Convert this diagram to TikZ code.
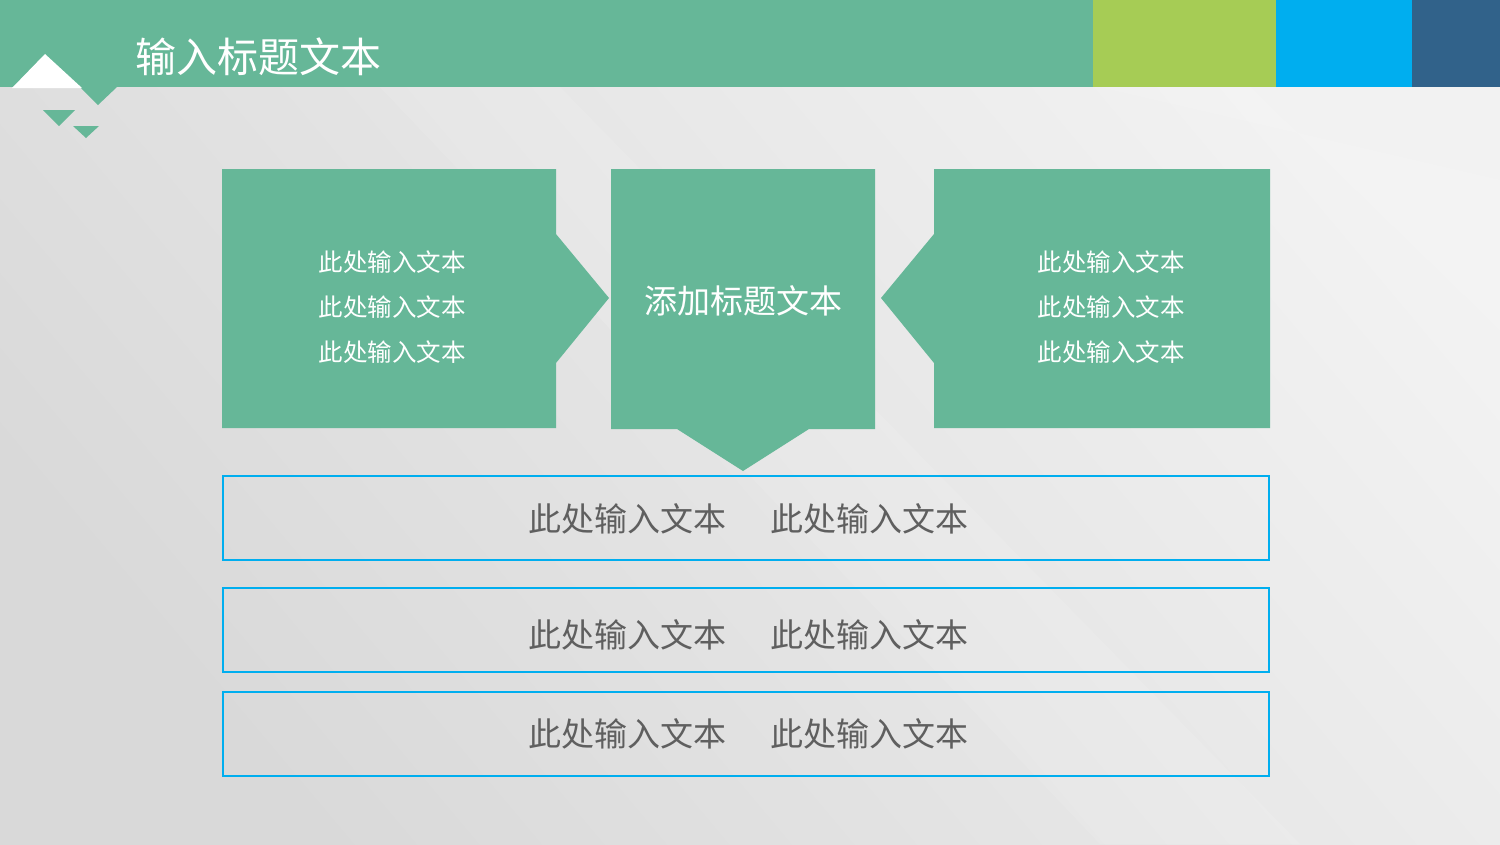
\documentclass[tikz,border=0pt]{standalone}
\usepackage{fontspec}
\newfontfamily\cjk{Noto Sans CJK SC}
\definecolor{mgreen}{HTML}{66B798}
\definecolor{mlime}{HTML}{A6CC55}
\definecolor{mblue}{HTML}{00AEEF}
\definecolor{mdark}{HTML}{31628A}
\definecolor{mgrey}{HTML}{5F5F5F}
\definecolor{bglight}{HTML}{F2F2F2}
\definecolor{bgdark}{HTML}{D9D9D9}
\tikzset{
  x=1pt, y=-1pt,
  gshape/.style={fill=mgreen, draw=none},
  outbox/.style={draw=mblue, line width=2.5pt},
  smalltext/.style={text=white, font=\cjk\fontsize{24.5}{45}\selectfont, align=center, inner sep=0pt},
  bigtext/.style={text=mgrey, font=\cjk\fontsize{33}{40}\selectfont, inner sep=0pt},
  titletext/.style={text=white, font=\cjk\fontsize{41}{48}\selectfont, inner sep=0pt},
}
\begin{document}
\begin{tikzpicture}
\useasboundingbox (0,0) rectangle (1500,844);
% background
\shade[shading=axis, top color=bglight, bottom color=bgdark, shading angle=-50] (0,0) rectangle (1500,844);
\fill[white, opacity=0.12] (1100,87) -- (1250,87) -- (1500,330) -- (1500,180) -- cycle;
\fill[white, opacity=0.10] (380,87) -- (560,87) -- (1300,844) -- (1100,844) -- cycle;
% header
\fill[mgreen] (0,0) rectangle (1093,87);
\fill[mgreen] (80,87) -- (117,87) -- (98,105) -- cycle;
\fill[white] (12,88) -- (82,88) -- (45,54) -- cycle;
\fill[mlime] (1093,0) rectangle (1276,87);
\fill[mblue] (1276,0) rectangle (1412,87);
\fill[mdark] (1412,0) rectangle (1500,87);
\fill[mgreen] (43,110) -- (75,110) -- (59,126) -- cycle;
\fill[mgreen] (73,126) -- (99,126) -- (86,138) -- cycle;
\node[titletext, anchor=west] (title) at (135,57) {输入标题文本};
% shapes
\fill[gshape] (222,169) -- (556,169) -- (556,234) -- (609,298) -- (556,363) -- (556,428) -- (222,428) -- cycle;
\fill[gshape] (611,169) -- (875,169) -- (875,429) -- (809,429) -- (743,471) -- (677,429) -- (611,429) -- cycle;
\fill[gshape] (934,169) -- (1270,169) -- (1270,428) -- (934,428) -- (934,363) -- (881,298) -- (934,234) -- cycle;
\node[smalltext] (lt) at (392,307) {此处输入文本\\此处输入文本\\此处输入文本};
\node[titletext, font=\cjk\fontsize{33}{40}\selectfont] (mt) at (743,301) {添加标题文本};
\node[smalltext] (rt) at (1111,307) {此处输入文本\\此处输入文本\\此处输入文本};
% boxes
\draw[outbox] (223,476) rectangle (1269,560);
\draw[outbox] (223,588) rectangle (1269,672);
\draw[outbox] (223,692) rectangle (1269,776);
\node[bigtext] (b1a) at (627,519) {此处输入文本};
\node[bigtext] (b1b) at (869,519) {此处输入文本};
\node[bigtext] (b2a) at (627,635) {此处输入文本};
\node[bigtext] (b2b) at (869,635) {此处输入文本};
\node[bigtext] (b3a) at (627,734) {此处输入文本};
\node[bigtext] (b3b) at (869,734) {此处输入文本};
\end{tikzpicture}
\end{document}
